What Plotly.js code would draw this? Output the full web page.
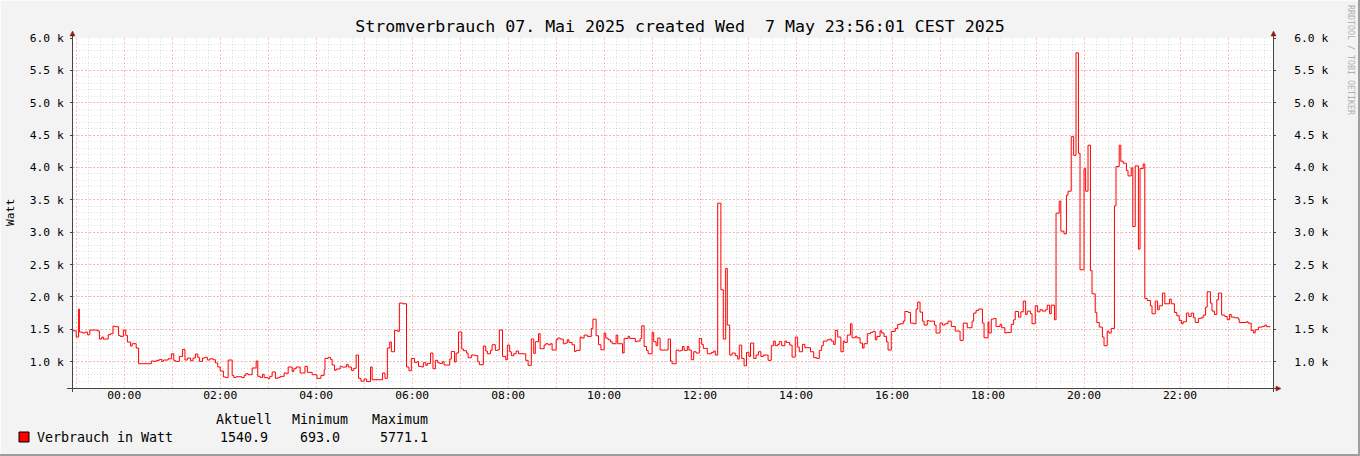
<!DOCTYPE html>
<html><head><meta charset="utf-8">
<script src="https://cdn.plot.ly/plotly-3.0.1.min.js"></script>
<style>html,body{margin:0;padding:0;background:#f3f3f3;} #chart{width:1360px;height:456px;}</style>
</head><body><div id="chart"></div>
<script>
// minutes relative to 2025-05-07 00:00 (negative = previous day)
const minutes = [-64,-60,-57,-56,-52,-49,-46,-43,-34,-31,-28,-26,-20,-17,-14,-12,-7,-5,-1,2,4,8,10,15,18,34,37,40,44,47,49,55,59,62,64,69,73,76,79,83,86,89,92,94,98,101,104,107,111,114,117,120,124,127,130,135,137,140,147,150,152,155,160,165,167,170,173,175,180,182,185,189,192,195,200,203,205,210,212,215,220,226,229,235,241,246,250,251,255,258,260,263,265,270,272,278,280,284,287,290,293,296,300,303,308,310,323,326,329,332,334,338,342,344,348,353,356,359,363,366,368,372,374,377,379,383,386,389,392,394,398,400,407,409,413,415,418,422,424,428,430,434,439,442,444,449,452,454,458,460,464,467,469,473,477,479,482,484,487,490,493,502,505,509,512,514,518,520,525,527,530,533,535,540,542,545,549,552,554,556,560,563,565,570,572,575,579,584,586,590,593,596,600,602,605,608,610,615,617,623,625,630,632,639,641,645,647,650,653,655,660,662,665,667,670,680,683,685,690,693,696,698,700,704,706,709,712,715,719,722,724,729,734,737,739,742,746,749,752,754,757,760,764,767,769,772,775,778,781,783,787,790,793,796,799,805,809,812,814,817,819,822,826,828,832,835,839,842,844,848,851,858,862,866,869,872,874,879,882,884,887,889,892,896,899,901,904,908,910,914,916,920,923,925,929,933,936,939,941,945,947,950,953,955,959,964,967,970,974,976,980,983,987,990,992,995,998,1000,1004,1006,1013,1015,1020,1023,1026,1030,1034,1039,1045,1049,1054,1060,1062,1065,1068,1073,1075,1080,1081,1084,1087,1090,1095,1097,1101,1103,1109,1112,1114,1118,1121,1124,1127,1129,1133,1135,1139,1142,1145,1148,1152,1154,1157,1159,1163,1165,1169,1171,1175,1178,1180,1184,1187,1190,1193,1195,1200,1202,1205,1208,1210,1214,1216,1219,1223,1225,1229,1231,1234,1238,1240,1244,1246,1249,1253,1255,1259,1261,1264,1268,1270,1274,1276,1279,1283,1285,1289,1292,1294,1298,1301,1307,1309,1313,1316,1319,1322,1324,1328,1331,1334,1337,1339,1343,1346,1349,1352,1354,1358,1360,1363,1366,1368,1372,1376,1379,1382,1384,1388,1393,1394,1403,1405,1409,1412,1414,1418,1423,1426,1428,1433];
const watts = [1478,1381,1813,1458,1443,1458,1417,1489,1478,1350,1381,1350,1417,1432,1551,1541,1406,1391,1489,1406,1304,1242,1278,1211,969,1011,1005,1021,1036,1005,1026,1046,1123,1021,1005,1082,1190,1026,1057,1016,1057,1118,1067,1005,1057,1067,1026,1046,1031,980,918,857,764,754,1026,789,758,768,754,789,815,799,903,1011,774,758,805,754,738,774,841,743,754,774,826,815,918,846,892,918,826,928,836,799,743,789,877,1051,1067,1036,949,867,887,928,918,959,918,867,898,1103,743,700,733,693,918,722,826,743,1211,1304,1154,1483,1468,1905,1895,918,861,1051,990,1000,928,918,985,944,974,1134,892,1021,985,974,1000,949,1041,1159,995,1134,1458,1196,1170,1134,1062,1103,1093,1000,954,1242,1165,1123,1175,1262,1175,1185,1489,1082,1031,1257,1154,1093,1123,1165,1123,1021,944,1350,1129,1309,1432,1201,1257,1278,1262,1278,1180,1339,1365,1350,1278,1288,1339,1298,1262,1159,1175,1381,1365,1412,1391,1514,1658,1401,1262,1185,1443,1365,1339,1309,1278,1412,1278,1134,1360,1391,1360,1309,1319,1360,1555,1236,1175,1123,1452,1309,1247,1365,1180,1350,1011,969,1180,1165,1175,1236,1175,1236,1180,1031,1154,1134,1360,1267,1206,1123,1144,1165,1103,3449,2111,1350,2440,1566,1103,1134,1093,1041,1257,1051,938,1144,1082,1288,1051,1103,1154,1082,1103,1021,1247,1319,1247,1267,1309,1247,1319,1298,1257,1072,1381,1226,1154,1267,1216,1154,1062,1051,1175,1247,1319,1339,1350,1319,1267,1483,1381,1154,1319,1298,1412,1586,1370,1391,1370,1288,1211,1278,1432,1452,1468,1339,1391,1478,1443,1391,1309,1180,1468,1514,1576,1586,1627,1776,1761,1596,1586,1813,1921,1766,1627,1566,1637,1627,1566,1443,1596,1566,1586,1627,1545,1473,1329,1596,1525,1627,1751,1792,1813,1596,1370,1617,1443,1658,1668,1545,1576,1525,1443,1452,1576,1648,1776,1689,1771,1936,1730,1782,1741,1586,1864,1771,1802,1782,1802,1874,1741,1874,1648,3294,3480,3017,2975,3572,3634,4476,4189,5771,4220,2420,3983,3634,4344,2409,2049,1761,1606,1535,1381,1247,1473,1442,1514,3407,4014,4344,4097,4066,3952,3870,3993,3088,4024,2739,3983,4055,1977,1946,1864,1741,1936,1802,1864,2060,1895,1967,1895,1761,1710,1637,1586,1617,1751,1699,1751,1679,1606,1668,1679,1720,1843,2080,1905,1782,1730,1957,2060,1720,1699,1648,1730,1689,1679,1658,1606,1617,1596,1483,1443,1494,1535,1545,1566,1541,1541];

const yTickValues = [1000,1500,2000,2500,3000,3500,4000,4500,5000,5500,6000];
const yTickLabels = ['1.0 k','1.5 k','2.0 k','2.5 k','3.0 k','3.5 k','4.0 k','4.5 k','5.0 k','5.5 k','6.0 k'];
const seriesName = 'Verbrauch in Watt';
const legendHeaders = ['Aktuell','Minimum','Maximum'];
const legendStats = ['1540.9','693.0','5771.1'];
const chartTitle = 'Stromverbrauch 07. Mai 2025 created Wed\u00a0 7 May 23:56:01 CEST 2025';
const yTitle = 'Watt';
const credit = 'RRDTOOL / TOBI OETIKER';

const base = Date.UTC(2025, 4, 7, 0, 0, 0);
function stamp(m) { return new Date(base + m * 60000).toISOString().slice(0, 19).replace('T', ' '); }
const times = minutes.map(stamp);

// layout geometry (pixels)
const L = 73, R = 1273, T = 38, B = 388, W = 1360, H = 456;
const px = x => (x - L) / (R - L);
const py = y => (B - y) / (B - T);
const yRange = [594, 6000];
const mono = 'DejaVu Sans Mono, monospace';

const trace = {
  x: times, y: watts, type: 'scatter', mode: 'lines', name: seriesName,
  line: {shape: 'hv', color: '#ff0000', width: 1}, hoverinfo: 'x+y'
};
// invisible copy that carries the right-hand axis
const traceRight = {
  x: times, y: watts, type: 'scatter', mode: 'lines', yaxis: 'y2', showlegend: false,
  line: {shape: 'hv', color: 'rgba(0,0,0,0)', width: 0}, hoverinfo: 'skip'
};

const majorGrid = 'rgba(255,0,0,0.24)';
const minorGrid = 'rgba(0,0,0,0.12)';

const shapes = [];
// frame of canvas
shapes.push({type:'line', xref:'paper', yref:'paper', x0:px(0), x1:px(W), y0:py(0.5), y1:py(0.5), line:{color:'#fcfcfc', width:1}});
shapes.push({type:'line', xref:'paper', yref:'paper', x0:px(0.5), x1:px(0.5), y0:py(0), y1:py(H), line:{color:'#fcfcfc', width:1}});
shapes.push({type:'line', xref:'paper', yref:'paper', x0:px(0), x1:px(W), y0:py(H-1), y1:py(H-1), line:{color:'#9e9e9e', width:2}});
shapes.push({type:'line', xref:'paper', yref:'paper', x0:px(W-1), x1:px(W-1), y0:py(0), y1:py(H), line:{color:'#9e9e9e', width:2}});
// axis lines
shapes.push({type:'line', xref:'paper', yref:'paper', x0:px(72.5), x1:px(72.5), y0:py(34), y1:py(392), line:{color:'#444', width:1}});
shapes.push({type:'line', xref:'paper', yref:'paper', x0:px(1273.5), x1:px(1273.5), y0:py(34), y1:py(392), line:{color:'#444', width:1}});
shapes.push({type:'line', xref:'paper', yref:'paper', x0:px(67), x1:px(1276), y0:py(388.5), y1:py(388.5), line:{color:'#444', width:1}});
// arrows
function tri(pts) { return 'M' + pts.map(p => px(p[0]) + ',' + py(p[1])).join(' L') + ' Z'; }
const arrowColor = '#8b1a1a';
shapes.push({type:'path', xref:'paper', yref:'paper', path: tri([[70,36],[75,36],[72.5,31]]), fillcolor: arrowColor, line:{color: arrowColor, width:0.5}});
shapes.push({type:'path', xref:'paper', yref:'paper', path: tri([[1271,36],[1276,36],[1273.5,31]]), fillcolor: arrowColor, line:{color: arrowColor, width:0.5}});
shapes.push({type:'path', xref:'paper', yref:'paper', path: tri([[1276,386],[1276,391],[1281,388.5]]), fillcolor: arrowColor, line:{color: arrowColor, width:0.5}});
// legend swatch
shapes.push({type:'rect', xref:'paper', yref:'paper', x0:px(19), x1:px(29), y0:py(442), y1:py(432), fillcolor:'#ff0000', line:{color:'#000', width:1}});

const ann = [];
const lf = {family: mono, size: 13.3, color: '#000'};
ann.push({text: seriesName, x: px(34.5), y: py(437.5), xref:'paper', yref:'paper', xanchor:'left', yanchor:'middle', showarrow:false, font: lf});
const headX = [214, 290, 370];
const statX = [218, 298, 378];
legendHeaders.forEach((h, i) => ann.push({text: h, x: px(headX[i]), y: py(419.5), xref:'paper', yref:'paper', xanchor:'left', yanchor:'middle', showarrow:false, font: lf}));
legendStats.forEach((s, i) => ann.push({text: s, x: px(statX[i]), y: py(437.5), xref:'paper', yref:'paper', xanchor:'left', yanchor:'middle', showarrow:false, font: lf}));
ann.push({text: yTitle, x: px(10), y: py(213), xref:'paper', yref:'paper', xanchor:'center', yanchor:'middle', textangle:-90, showarrow:false, font:{family: mono, size: 11.3, color:'#000'}});
ann.push({text: credit, x: px(1351), y: py(60), xref:'paper', yref:'paper', xanchor:'center', yanchor:'middle', textangle:90, showarrow:false, font:{family: mono, size: 8.3, color:'#b0b0b0'}});

const tickFont = {family: mono, size: 11.3, color: '#000'};

const layout = {
  width: W, height: H,
  margin: {l: L, r: W - R, t: T, b: H - B, pad: 0},
  paper_bgcolor: '#f3f3f3', plot_bgcolor: '#ffffff',
  showlegend: false,
  title: {text: chartTitle, x: 0.5, xref: 'container', y: 1 - 26/H, yref: 'container', xanchor: 'center', yanchor: 'middle',
          font: {family: mono, size: 16.6, color: '#000'}},
  xaxis: {
    type: 'date', range: [stamp(-64), stamp(1436.25)],
    tick0: '2025-05-07 00:00:00', dtick: 3600000, tickformat: '%H:%M', ticklabelstep: 2,
    showgrid: true, gridcolor: majorGrid, griddash: '2px,2px', gridwidth: 1,
    minor: {dtick: 900000, tick0: '2025-05-07 00:00:00', showgrid: true, gridcolor: minorGrid, griddash: '1px,2px', gridwidth: 1},
    ticks: '', ticklabelstandoff: -1, showline: false, zeroline: false,
    tickfont: tickFont, fixedrange: true
  },
  yaxis: {
    range: yRange, tickmode: 'array', tickvals: yTickValues, ticktext: yTickLabels,
    showgrid: true, gridcolor: majorGrid, griddash: '2px,2px', gridwidth: 1,
    minor: {dtick: 100, tick0: 0, showgrid: true, gridcolor: minorGrid, griddash: '1px,2px', gridwidth: 1},
    ticks: 'outside', ticklen: 2, tickcolor: '#444', ticklabelstandoff: 4,
    showline: false, zeroline: false, tickfont: tickFont, fixedrange: true
  },
  yaxis2: {
    overlaying: 'y', side: 'right', anchor: 'x', range: yRange, tickmode: 'array', tickvals: yTickValues, ticktext: yTickLabels,
    showgrid: false, ticks: 'outside', ticklen: 2, tickcolor: '#444', ticklabelstandoff: 16,
    showline: false, zeroline: false, tickfont: tickFont, fixedrange: true
  },
  shapes: shapes,
  annotations: ann
};

Plotly.newPlot('chart', [trace, traceRight], layout, {staticPlot: true, displayModeBar: false});
</script>
</body></html>
